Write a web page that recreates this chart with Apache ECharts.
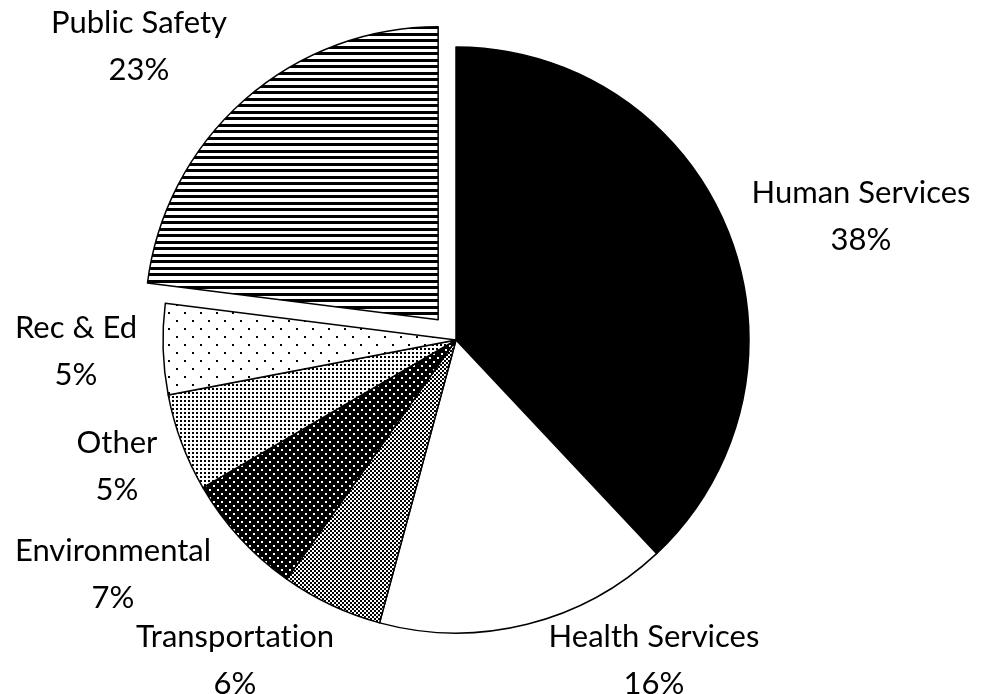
<!DOCTYPE html>
<html>
<head>
<meta charset="utf-8">
<script src="https://cdn.jsdelivr.net/npm/echarts@6/dist/echarts.min.js"></script>
<style>
html,body{margin:0;padding:0;background:#fff;}
#chart{width:984px;height:694px;}
</style>
</head>
<body>
<div id="chart"></div>
<script>
// ---- data ----
const categories = ['Human Services', 'Health Services', 'Transportation', 'Environmental', 'Other', 'Rec & Ed', 'Public Safety'];
const values = [38.0, 16.2, 5.6, 6.8, 5.4, 5.0, 23.0];
const explodedCategory = 'Public Safety';

// ---- layout ----
const pieCenter = [456, 340];
const pieRadius = 293;
const explodeOffset = 27;

// ---- fill patterns ----
function tile(w, h, bg, fg, rects) {
  const c = document.createElement('canvas');
  c.width = w; c.height = h;
  const g = c.getContext('2d');
  g.fillStyle = bg; g.fillRect(0, 0, w, h);
  g.fillStyle = fg;
  rects.forEach(r => g.fillRect(r[0], r[1], r[2], r[3]));
  return { image: c, repeat: 'repeat' };
}
const fills = [
  '#000000',
  '#ffffff',
  tile(4, 4, '#ffffff', '#000000', [[0, 0, 2, 2], [2, 2, 2, 2]]),
  tile(8, 8, '#000000', '#ffffff', [[1, 1, 2, 2], [5, 5, 2, 2]]),
  tile(4, 4, '#ffffff', '#000000', [[0, 0, 2, 2]]),
  tile(16, 16, '#ffffff', '#000000', [[0, 0, 2, 2], [8, 8, 2, 2]]),
  tile(4, 13, '#ffffff', '#000000', [[0, 0, 4, 3], [0, 7, 4, 3]])
];

// label block centres (layout only)
const labelCentres = {
  'Human Services': [861, 216],
  'Health Services': [654, 660],
  'Transportation': [235, 660],
  'Environmental': [113, 574],
  'Other': [117, 466],
  'Rec & Ed': [76, 351],
  'Public Safety': [139, 46]
};

// explosion vector of the detached slice, from its mid angle
const total = values.reduce((a, b) => a + b, 0);
const exIdx = categories.indexOf(explodedCategory);
const before = values.slice(0, exIdx).reduce((a, b) => a + b, 0);
const midAng = (before + values[exIdx] / 2) / total * 2 * Math.PI; // clockwise from 12 o'clock
const exCenter = [pieCenter[0] + explodeOffset * Math.sin(midAng), pieCenter[1] - explodeOffset * Math.cos(midAng)];

const hidden = { color: 'rgba(0,0,0,0)', borderWidth: 0 };

const chart = echarts.init(document.getElementById('chart'), null, { renderer: 'canvas' });
chart.setOption({
  animation: false,
  backgroundColor: '#ffffff',
  series: [{
    type: 'pie',
    center: pieCenter,
    radius: pieRadius,
    startAngle: 90,
    clockwise: true,
    avoidLabelOverlap: false,
    silent: true,
    itemStyle: { borderColor: '#000', borderWidth: 1.5 },
    label: {
      show: true,
      position: 'outside',
      fontFamily: 'Lato',
      fontSize: 31,
      lineHeight: 47,
      color: '#000',
      align: 'center',
      // zero-width non-joiner keeps "ti" from forming a ligature
      formatter: p => p.name.replace(/ti/g, 't\u200Ci') + '\n' + Math.round(p.percent) + '%'
    },
    labelLine: { show: false },
    labelLayout: p => {
      const c = labelCentres[categories[p.dataIndex]];
      return { x: c[0], y: c[1], align: 'center', verticalAlign: 'middle' };
    },
    data: categories.map((name, i) => ({
      name: name,
      value: values[i],
      itemStyle: name === explodedCategory ? hidden : { color: fills[i] }
    }))
  }, {
    type: 'pie',
    center: exCenter,
    radius: pieRadius,
    startAngle: 90,
    clockwise: true,
    silent: true,
    itemStyle: { borderColor: '#000', borderWidth: 1.5 },
    label: { show: false },
    labelLine: { show: false },
    data: categories.map((name, i) => ({
      name: name,
      value: values[i],
      itemStyle: name === explodedCategory ? { color: fills[i] } : hidden
    }))
  }]
});
</script>
</body>
</html>
